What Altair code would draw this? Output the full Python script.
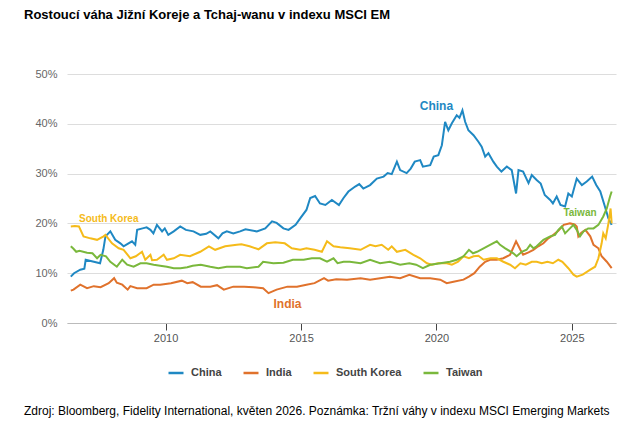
import altair as alt
import pandas as pd

TITLE = "Rostoucí váha Jižní Koreje a Tchaj-wanu v indexu MSCI EM"
NOTE = ("Zdroj: Bloomberg, Fidelity International, květen 2026. "
        "Poznámka: Tržní váhy v indexu MSCI Emerging Markets")

SERIES = ["China", "India", "South Korea", "Taiwan"]
COLORS = ["#1f88c3", "#e0722c", "#f5bb1a", "#7ab83c"]

china_years = [2006.50, 2006.62, 2006.85, 2007.00, 2007.05, 2007.35, 2007.58, 2007.70, 2007.78, 2007.96,
               2008.14, 2008.33, 2008.45, 2008.60, 2008.76, 2008.88, 2008.95, 2009.15, 2009.30, 2009.44,
               2009.55, 2009.68, 2009.87, 2009.97, 2010.10, 2010.30, 2010.54, 2010.75, 2011.03, 2011.28,
               2011.50, 2011.65, 2011.95, 2012.10, 2012.26, 2012.50, 2012.75, 2012.95, 2013.37, 2013.68,
               2013.93, 2014.10, 2014.35, 2014.54, 2014.80, 2014.97, 2015.20, 2015.34, 2015.52, 2015.70,
               2015.90, 2016.14, 2016.40, 2016.57, 2016.75, 2017.00, 2017.15, 2017.30, 2017.55, 2017.80,
               2018.05, 2018.20, 2018.35, 2018.54, 2018.66, 2018.90, 2019.05, 2019.20, 2019.40, 2019.50,
               2019.77, 2019.90, 2020.07, 2020.20, 2020.32, 2020.44, 2020.57, 2020.75, 2020.85, 2020.96,
               2021.06, 2021.18, 2021.37, 2021.55, 2021.67, 2021.80, 2021.92, 2022.10, 2022.23, 2022.40,
               2022.60, 2022.78, 2022.94, 2023.03, 2023.20, 2023.40, 2023.52, 2023.70, 2023.85, 2024.00,
               2024.20, 2024.30, 2024.44, 2024.58, 2024.75, 2024.87, 2025.00, 2025.18, 2025.37, 2025.55,
               2025.75, 2025.90, 2026.05, 2026.22, 2026.35, 2026.47]
china_share = [9.3, 10.0, 10.7, 10.9, 12.7, 12.3, 12.0, 14.7, 17.4, 18.4,
               16.7, 16.0, 15.4, 15.9, 16.4, 15.7, 18.7, 19.0, 19.2, 18.7,
               18.0, 19.7, 18.4, 19.0, 17.7, 18.4, 19.4, 18.7, 18.4, 17.7,
               17.9, 18.4, 17.0, 18.0, 18.4, 18.0, 18.4, 18.8, 18.4, 19.0,
               20.4, 20.1, 19.0, 18.7, 19.7, 21.0, 22.7, 25.1, 25.5, 24.0,
               23.7, 24.7, 23.7, 25.1, 26.4, 27.4, 27.9, 27.0, 27.7, 29.0,
               29.4, 30.1, 29.9, 32.4, 30.7, 30.1, 31.0, 32.4, 32.7, 31.4,
               31.7, 33.4, 33.7, 35.7, 40.4, 38.7, 40.1, 41.7, 41.2, 42.7,
               40.4, 38.7, 37.7, 36.4, 35.4, 33.4, 34.1, 32.4, 31.4, 30.4,
               31.4, 30.7, 26.0, 30.7, 30.4, 28.1, 29.7, 28.7, 28.0, 25.7,
               24.7, 24.0, 25.4, 23.7, 23.4, 26.0, 25.4, 29.0, 27.7, 28.4,
               29.4, 27.7, 26.4, 23.4, 21.0, 19.7]

india_years = [2006.50, 2006.60, 2006.85, 2007.10, 2007.35, 2007.60, 2007.90, 2008.10, 2008.20, 2008.40,
               2008.60, 2008.70, 2008.95, 2009.30, 2009.56, 2009.80, 2010.20, 2010.60, 2010.80, 2011.00,
               2011.30, 2011.65, 2011.90, 2012.15, 2012.50, 2012.90, 2013.25, 2013.60, 2013.80, 2014.10,
               2014.50, 2014.85, 2015.20, 2015.50, 2015.85, 2016.00, 2016.30, 2016.70, 2017.20, 2017.55,
               2017.92, 2018.28, 2018.66, 2019.00, 2019.40, 2019.77, 2020.14, 2020.38, 2020.63, 2021.00,
               2021.20, 2021.40, 2021.60, 2021.80, 2021.98, 2022.23, 2022.47, 2022.72, 2022.94, 2023.10,
               2023.20, 2023.40, 2023.58, 2023.76, 2023.95, 2024.13, 2024.32, 2024.50, 2024.70, 2024.93,
               2025.10, 2025.18, 2025.24, 2025.35, 2025.50, 2025.68, 2025.80, 2025.98, 2026.10, 2026.29,
               2026.47]
india_share = [6.5, 6.7, 7.7, 7.0, 7.4, 7.2, 8.0, 9.0, 8.1, 7.7,
               6.7, 7.4, 7.0, 7.0, 7.7, 7.7, 8.0, 8.5, 8.0, 8.2,
               7.3, 7.3, 7.6, 6.7, 7.3, 7.3, 7.2, 7.0, 6.0, 6.7,
               7.3, 7.3, 7.7, 8.0, 9.0, 8.5, 8.8, 8.7, 9.0, 8.7,
               9.0, 9.3, 9.0, 9.7, 9.0, 9.0, 8.7, 8.0, 8.3, 8.7,
               9.3, 10.0, 11.3, 12.3, 12.7, 12.7, 13.0, 13.7, 16.4, 14.7,
               13.7, 14.2, 14.7, 15.4, 16.0, 17.0, 17.7, 18.5, 19.7, 20.0,
               19.8, 19.4, 17.4, 18.1, 18.7, 17.4, 15.7, 15.0, 13.4, 12.3,
               11.0]

korea_years = [2006.50, 2006.65, 2006.80, 2006.97, 2007.22, 2007.47, 2007.71, 2007.78, 2008.02, 2008.27,
               2008.45, 2008.70, 2008.90, 2009.13, 2009.25, 2009.44, 2009.50, 2009.68, 2009.93, 2010.05,
               2010.30, 2010.54, 2010.90, 2011.28, 2011.60, 2011.83, 2012.20, 2012.63, 2012.80, 2013.10,
               2013.43, 2013.74, 2014.05, 2014.40, 2014.66, 2014.97, 2015.20, 2015.50, 2015.77, 2015.96,
               2016.20, 2016.45, 2016.80, 2017.20, 2017.55, 2017.75, 2017.98, 2018.22, 2018.35, 2018.54,
               2018.85, 2019.15, 2019.40, 2019.65, 2019.83, 2020.07, 2020.38, 2020.57, 2020.80, 2021.00,
               2021.20, 2021.37, 2021.55, 2021.74, 2022.00, 2022.23, 2022.47, 2022.72, 2022.90, 2023.10,
               2023.30, 2023.52, 2023.70, 2023.89, 2024.10, 2024.30, 2024.50, 2024.65, 2024.87, 2025.06,
               2025.18, 2025.40, 2025.68, 2025.86, 2025.98, 2026.10, 2026.16, 2026.25, 2026.35, 2026.43,
               2026.47]
korea_share = [19.4, 19.5, 19.4, 17.4, 17.0, 16.7, 17.4, 17.7, 16.0, 15.0,
               14.7, 13.0, 13.4, 14.3, 12.7, 13.7, 12.6, 12.7, 13.7, 12.7,
               13.0, 13.7, 13.4, 14.3, 15.4, 14.7, 15.4, 15.7, 15.8, 15.4,
               14.8, 16.0, 16.2, 16.0, 15.0, 14.7, 15.0, 14.7, 14.3, 16.4,
               15.4, 15.2, 15.0, 14.7, 15.7, 15.4, 15.7, 14.7, 15.4, 14.3,
               14.7, 13.7, 13.0, 12.0, 11.7, 12.0, 12.0, 11.7, 12.3, 13.4,
               13.0, 13.4, 13.5, 12.7, 13.0, 13.0, 12.3, 11.7, 11.0, 12.0,
               11.7, 12.3, 12.3, 12.0, 12.3, 12.0, 12.7, 12.3, 11.0, 9.7,
               9.3, 9.7, 10.7, 11.3, 13.0, 16.0, 18.0, 17.0, 20.0, 23.0,
               20.0]

taiwan_years = [2006.50, 2006.60, 2006.70, 2006.82, 2007.10, 2007.30, 2007.47, 2007.60, 2007.80, 2007.96,
                2008.20, 2008.40, 2008.58, 2008.82, 2009.07, 2009.30, 2009.56, 2009.80, 2010.05, 2010.30,
                2010.55, 2010.80, 2011.00, 2011.30, 2011.65, 2011.95, 2012.26, 2012.75, 2013.00, 2013.43,
                2013.60, 2013.98, 2014.35, 2014.70, 2015.10, 2015.40, 2015.70, 2015.96, 2016.20, 2016.35,
                2016.57, 2016.80, 2017.20, 2017.55, 2017.92, 2018.28, 2018.66, 2019.00, 2019.25, 2019.50,
                2019.77, 2020.14, 2020.50, 2020.75, 2021.00, 2021.20, 2021.35, 2021.50, 2021.74, 2021.98,
                2022.23, 2022.35, 2022.54, 2022.84, 2022.96, 2023.15, 2023.33, 2023.46, 2023.58, 2023.70,
                2023.95, 2024.20, 2024.38, 2024.50, 2024.63, 2024.75, 2024.93, 2025.06, 2025.18, 2025.30,
                2025.43, 2025.60, 2025.80, 2025.98, 2026.16, 2026.29, 2026.41, 2026.47]
taiwan_share = [15.4, 14.9, 14.3, 14.5, 14.1, 14.0, 13.0, 13.7, 13.4, 12.3,
                11.3, 12.7, 11.7, 11.3, 12.0, 12.0, 11.7, 11.5, 11.3, 11.0,
                11.0, 11.2, 11.5, 11.7, 11.3, 11.0, 11.3, 11.3, 11.0, 11.3,
                12.3, 12.0, 12.1, 12.7, 12.7, 13.0, 13.0, 12.3, 13.0, 12.0,
                12.3, 12.3, 12.0, 12.7, 12.0, 12.3, 11.7, 12.0, 11.7, 11.0,
                11.7, 12.0, 12.3, 12.7, 13.4, 14.7, 14.0, 14.3, 15.0, 15.7,
                16.4, 15.7, 15.0, 14.0, 13.4, 14.3, 14.7, 15.7, 15.0, 15.4,
                16.7, 17.4, 17.7, 18.7, 19.4, 18.0, 19.0, 19.7, 18.7, 17.4,
                18.4, 19.0, 19.0, 19.7, 21.4, 23.0, 25.4, 26.4]

# series name labels drawn inside the plot
label_names = ["China", "South Korea", "India", "Taiwan"]
label_years = [2020.0, 2007.9, 2014.5, 2025.3]
label_share = [43.5, 20.8, 3.8, 22.0]

FONT = "Liberation Sans"


def _long_table():
    parts = [
        ("China", china_years, china_share),
        ("India", india_years, india_share),
        ("South Korea", korea_years, korea_share),
        ("Taiwan", taiwan_years, taiwan_share),
    ]
    frames = [pd.DataFrame({"series": name, "year": yrs, "share": vals}) for name, yrs, vals in parts]
    return pd.concat(frames, ignore_index=True)


def _plot(df, labels):
    x = alt.X("year:Q",
              scale=alt.Scale(domain=[2006.36, 2026.63], nice=False, zero=False),
              axis=alt.Axis(values=[2010, 2015, 2020, 2025], format="d", grid=False, title=None,
                            tickSize=7, tickColor="#444", domainColor="#bbb",
                            labelFont=FONT, labelFontSize=11, labelColor="#555", labelPadding=2))
    y = alt.Y("share:Q",
              scale=alt.Scale(domain=[0, 50], nice=False),
              axis=alt.Axis(values=[0, 10, 20, 30, 40, 50], labelExpr="datum.value + '%'", title=None,
                            grid=True, gridColor="#ddd", domain=False, ticks=False,
                            labelFont=FONT, labelFontSize=11, labelColor="#666", labelPadding=10))
    color_scale = alt.Scale(domain=SERIES, range=COLORS)

    lines = alt.Chart(df).mark_line(strokeWidth=2).encode(
        x=x,
        y=y,
        color=alt.Color("series:N", scale=color_scale, sort=SERIES,
                        legend=alt.Legend(title=None, orient="none", legendX=100, legendY=290,
                                          direction="horizontal", symbolType="stroke",
                                          symbolStrokeWidth=2.5, symbolSize=225, columnPadding=16,
                                          labelOffset=6, labelFont=FONT, labelFontSize=11,
                                          labelFontWeight="bold", labelColor="#444")),
    )

    text_base = alt.Chart(labels).encode(
        x="year:Q",
        y="share:Q",
        text="series:N",
        color=alt.Color("series:N", scale=color_scale, legend=None),
    )
    big = text_base.mark_text(font=FONT, fontSize=12, fontWeight="bold", baseline="middle").transform_filter(
        alt.FieldOneOfPredicate(field="series", oneOf=["China", "India"])
    )
    small = text_base.mark_text(font=FONT, fontSize=10, fontWeight="bold", baseline="middle").transform_filter(
        alt.FieldOneOfPredicate(field="series", oneOf=["South Korea", "Taiwan"])
    )

    note = alt.Chart(pd.DataFrame({"note": [NOTE]})).mark_text(
        font=FONT, fontSize=12, align="left", baseline="middle", color="#000"
    ).encode(text="note:N", x=alt.value(-43), y=alt.value(337))

    return (lines + big + small + note).properties(
        width=549,
        height=249,
        padding={"left": 59, "top": 66, "right": 14, "bottom": 102},
        autosize=alt.AutoSizeParams(type="none"),
        title=alt.TitleParams(TITLE, anchor="start", frame="group", dx=-43, offset=46,
                              font=FONT, fontSize=13, fontWeight="bold", color="#000"),
    ).configure_view(stroke=None)


labels = pd.DataFrame({"series": label_names, "year": label_years, "share": label_share})
chart = _plot(_long_table(), labels)
chart.save("out.html", embed_options={"renderer": "svg", "actions": False})
